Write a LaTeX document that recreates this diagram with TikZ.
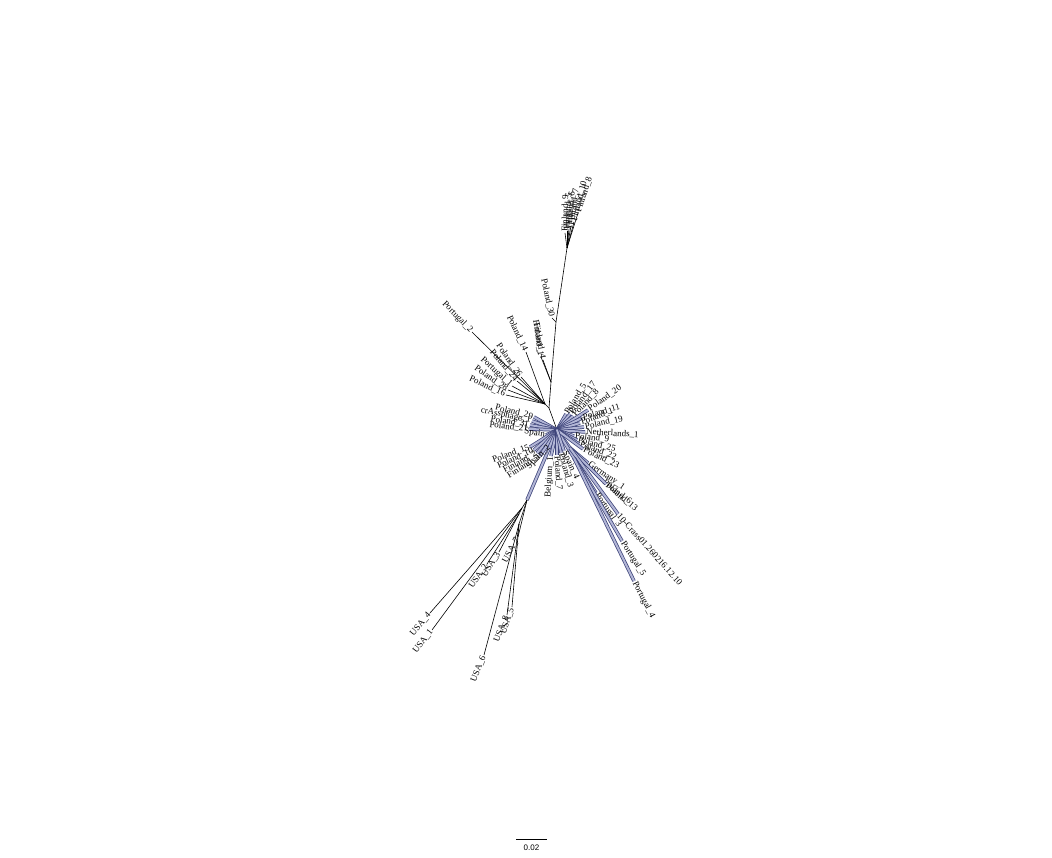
\documentclass[tikz,border=0pt]{standalone}
\usepackage{fontspec}
\setmainfont{Liberation Serif}
\setsansfont{Liberation Sans}
\definecolor{hledge}{RGB}{62,68,122}
\definecolor{hlfill}{RGB}{178,182,214}
\tikzset{%
branch/.style={draw,line width=0.6pt},
hilite/.style={draw=hledge,double=hlfill,double distance=2pt,line width=0.75pt},
leaf/.style={font=\fontsize{9}{10}\selectfont, inner sep=1pt},
scalelab/.style={font=\sffamily\fontsize{8}{9}\selectfont, inner sep=1pt}
}
\begin{document}
\begin{tikzpicture}[x=1pt,y=-1pt]
\useasboundingbox (0,0) rectangle (1052,858);

% inner nodes
\coordinate (hub) at (557,430);
\coordinate (a1)  at (549,408);
\coordinate (a2)  at (551,382);
\coordinate (a3)  at (556,322);
\coordinate (a4)  at (567,248);
\coordinate (b1)  at (545,404);
\coordinate (g1)  at (570,448);
\coordinate (p1)  at (574,458);
\coordinate (u1)  at (527,500);
\coordinate (ua)  at (522,508);
\coordinate (ub)  at (519,514);
\coordinate (uc)  at (519,524);

\foreach \m/\c in {u1/hub, g1/hub, p1/hub}
{
  \draw[hilite] (\m) -- (\c);
}
\foreach \m/\c in {hub/a1, a1/a2, a2/a3, a3/a4, a1/b1, u1/ua, ua/ub, u1/uc}
{
  \draw[branch] (\m) -- (\c);
}

% highlighted leaves
\foreach \p/\n/\xy/\r/\a/\t in {
  hub/pl29/{534,417}/-14/east/Poland\_29,
  hub/cra/{532,421}/-12/east/crAssphage\_1,
  hub/pl31/{530,425}/-9/east/Poland\_31,
  hub/pl21/{529,429}/-6/east/Poland\_21,
  hub/sp/{546,435}/-8/east/Spain,
  hub/pl15/{530,447}/20/east/Poland\_15,
  hub/pl10/{534,450}/24/east/Poland\_10,
  hub/fi2/{537,453}/28/east/Finland\_2,
  hub/fi3/{540,456}/32/east/Finland\_3,
  hub/sp2/{550,446}/45/east/Spain\_2,
  hub/pl5/{566,414}/58/west/Poland\_5,
  hub/pl17/{570,414}/52/west/Poland\_17,
  hub/pl8/{573,416}/46/west/Poland\_8,
  hub/pl20/{588,410}/35/west/Poland\_20,
  hub/pl11/{582,418}/16/west/Poland\_11,
  hub/pl1/{580,423}/20/west/Poland\_1,
  hub/pl19/{584,427}/12/west/Poland\_19,
  hub/nl1/{585,432}/-3/west/Netherlands\_1,
  hub/pl9/{574,436}/-6/west/Poland\_9,
  hub/pl25/{577,440}/-14/west/Poland\_25,
  hub/pl22/{579,444}/-20/west/Poland\_22,
  hub/pl23/{583,449}/-26/west/Poland\_23,
  hub/be1/{551,456}/86/east/Belgium\_1,
  hub/pl7/{557,455}/-86/west/Poland\_7,
  hub/pl3/{561,453}/-74/west/Poland\_3,
  hub/sp4/{564,451}/-66/west/Spain\_4,
  g1/ge1/{588,463}/-35/west/Germany\_1,
  g1/pl6/{603,481}/-38/west/Poland\_6,
  g1/pl13/{606,484}/-40/west/Poland\_13,
  g1/cr10/{618,514}/-48/west/10-Crass01.260216.12.10,
  p1/pt3/{596,493}/-55/west/Portugal\_3,
  p1/pt5/{622,541}/-58/west/Portugal\_5,
  p1/pt4/{634,581}/-63/west/Portugal\_4}
{
  \coordinate (\n) at (\xy);
  \draw[hilite] (\p) -- (\n);
  \node[leaf,rotate=\r,anchor=\a] (\n-lab) at (\n) {\t};
}

% plain leaves
\foreach \p/\n/\xy/\r/\a/\t in {
  a4/f8/{578,213}/72/west/Finland\_8,
  a4/f10/{574,222}/76/west/Finland\_10,
  a4/f7/{571,226}/82/west/Finland\_7,
  a4/f6/{569,229}/85/west/Finland\_6,
  a4/f5/{567,231}/87/west/Finland\_5,
  a4/f9/{565,233}/89/west/Finland\_9,
  a3/pl30/{552,318}/-78/east/Poland\_30,
  a2/fi4/{543,360}/-80/east/Finland\_4,
  a2/fi1/{541,357}/-82/east/Finland\_1,
  b1/pt2/{472,332}/-46/east/Portugal\_2,
  b1/pl14/{526,352}/-65/east/Poland\_14,
  b1/pl26/{521,377}/-55/east/Poland\_26,
  b1/pl24/{517,381}/-50/east/Poland\_24,
  b1/pt1/{512,386}/-42/east/Portugal\_1,
  b1/pl28/{508,390}/-35/east/Poland\_28,
  b1/pl16/{506,395}/-25/east/Poland\_16,
  ua/us4/{430,613}/50/east/USA\_4,
  ua/us1/{432,630}/52/east/USA\_1,
  ub/us2/{487,564}/55/east/USA\_2,
  ub/us3/{499,552}/58/east/USA\_3,
  u1/us7/{518,537}/62/east/USA\_7,
  uc/us8/{507,615}/68/east/USA\_8,
  uc/us5/{512,607}/72/east/USA\_5,
  uc/us6/{484,655}/68/east/USA\_6}
{
  \coordinate (\n) at (\xy);
  \draw[branch] (\p) -- (\n);
  \node[leaf,rotate=\r,anchor=\a] (\n-lab) at (\n) {\t};
}

% scale bar
\coordinate (sbl) at (516,839);
\coordinate (sbr) at (547,839);
\draw[branch,line width=0.8pt] (sbl) -- (sbr) node[scalelab,midway,below=5pt] (sblab) {0.02};
\end{tikzpicture}
\end{document}
